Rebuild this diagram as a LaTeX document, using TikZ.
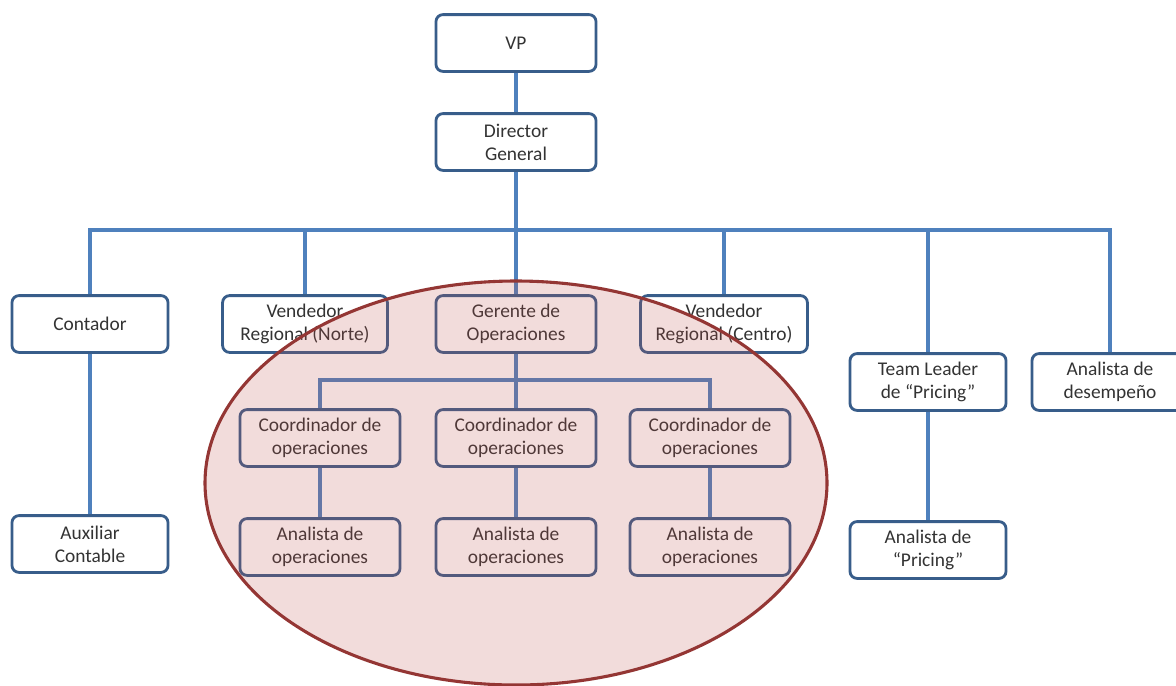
\documentclass[tikz,border=0pt]{standalone}
\usepackage{fontspec}
\setmainfont{Carlito}
\usetikzlibrary{positioning}
\definecolor{linea}{HTML}{4F81BD}
\definecolor{borde}{HTML}{385D8A}
\definecolor{rojo}{HTML}{943634}
\definecolor{rosa}{HTML}{C0504D}

\begin{document}
\begin{tikzpicture}[x=0.025cm, y=-0.025cm,
        main/.style = {draw=borde, line width=2pt, rounded corners=5pt, fill=white, align=center,
            minimum width=4cm, minimum height=1.42cm, inner sep=1pt, text=black!80,
            font=\fontsize{13.8}{16.5}\selectfont},
        link/.style = {draw=linea, line width=2.4pt}]
        \useasboundingbox (0,0) rectangle (1176,685);
        \node[main] (vp)   at (516,43)  {VP};
        \node[main] (dg)   at (516,142) {Director\\General};
        \node[main, minimum width=3.9cm] (cont) at (90,324)  {Contador};
        \node[main, minimum width=4.12cm] (vnor) at (305,324) {Vendedor\\Regional (Norte)};
        \node[main] (ger)  at (516,324) {Gerente de\\Operaciones};
        \node[main, minimum width=4.17cm] (vcen) at (724,324) {Vendedor\\Regional (Centro)};
        \node[main, minimum width=3.9cm] (team) at (928,382) {Team Leader\\de “Pricing”};
        \node[main, minimum width=3.9cm] (desem) at (1110,382) {Analista de\\desempeño};
        \node[main] (co1)  at (320,438) {Coordinador de\\operaciones};
        \node[main] (co2)  at (516,438) {Coordinador de\\operaciones};
        \node[main] (co3)  at (710,438) {Coordinador de\\operaciones};
        \node[main] (an1)  at (320,547) {Analista de\\operaciones};
        \node[main] (an2)  at (516,547) {Analista de\\operaciones};
        \node[main] (an3)  at (710,547) {Analista de\\operaciones};
        \node[main, minimum width=3.9cm] (aux) at (90,544) {Auxiliar\\Contable};
        \node[main, minimum width=3.9cm] (apri) at (928,550) {Analista de\\“Pricing”};
        \coordinate (bus) at (516,230);
        \coordinate (sub) at (516,380);
        \begin{scope}[on background layer/.try]
        \draw[link] (vp) -- (dg);
        \draw[link] (dg) -- (ger);
        \draw[link] (cont.north) |- (bus) -| (desem.north);
        \foreach \n in {vnor, vcen, team}
            \draw[link] (\n.north) -- (\n.north |- bus);
        \draw[link] (co1.north) |- (sub) -| (co3.north);
        \draw[link] (ger) -- (co2);
        \draw[link] (co1) -- (an1);
        \draw[link] (co2) -- (an2);
        \draw[link] (co3) -- (an3);
        \draw[link] (cont) -- (aux);
        \draw[link] (team) -- (apri);
        \end{scope}
        \draw[rojo, line width=2.2pt, fill=rosa, fill opacity=0.2] (516,483) ellipse [x radius=311, y radius=202];
    \end{tikzpicture}
\end{document}
